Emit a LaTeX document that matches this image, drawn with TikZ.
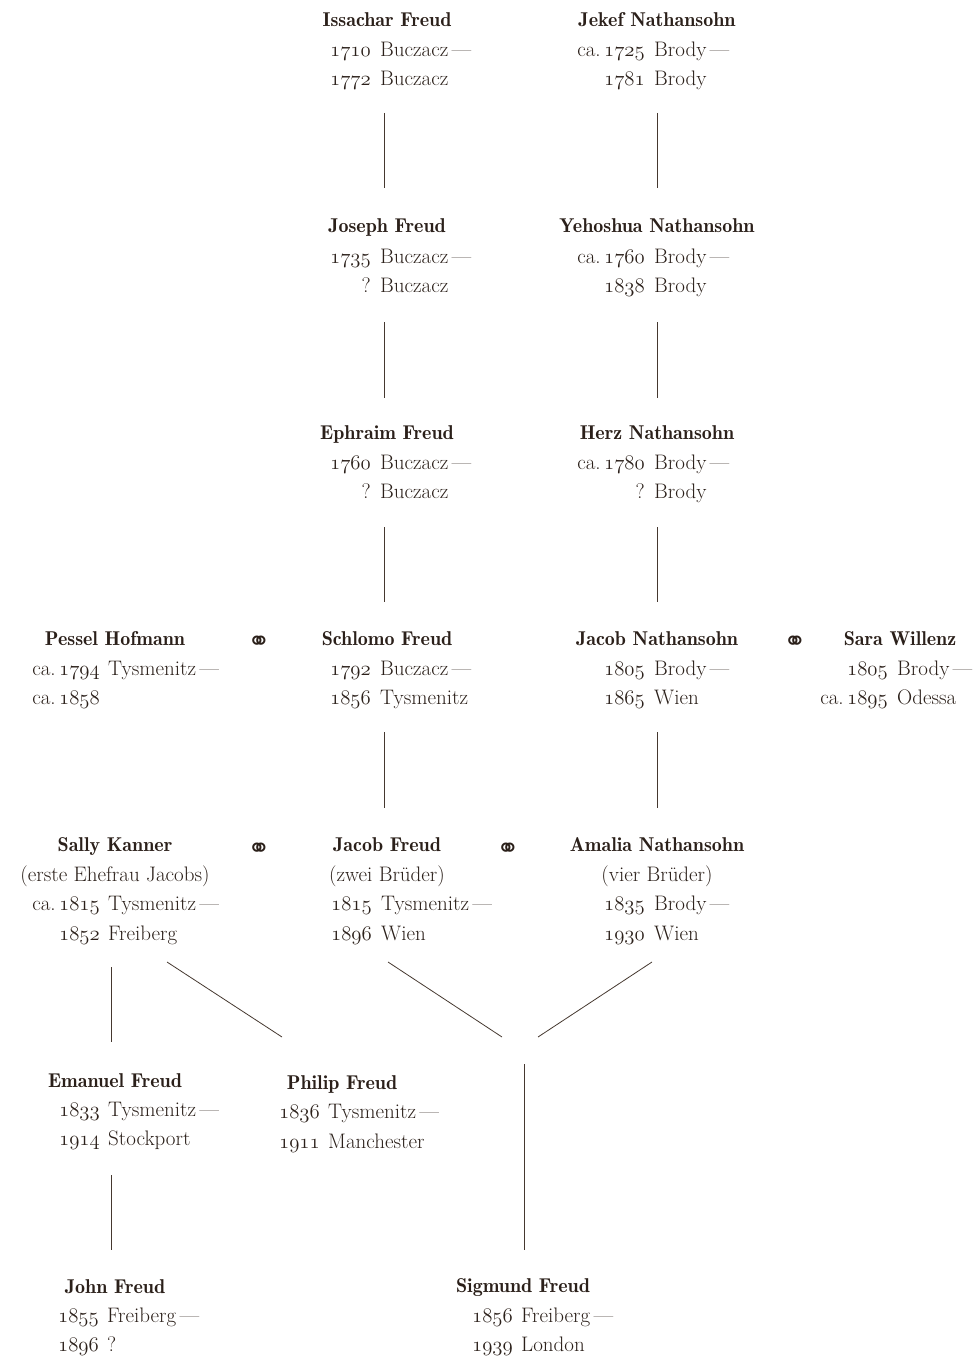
\documentclass[tikz,border=0pt]{standalone}
\usepackage{fontspec}
\newfontfamily\symfont{DejaVu Sans}
\definecolor{ink}{HTML}{2B201A}
\definecolor{rule}{HTML}{45382F}
\newcommand\on[1]{{\usefont{OML}{cmm}{m}{it}\fontsize{21}{24}\selectfont#1}}
\newcommand\ca{ca.\,}
\tikzset{
  nm/.style={anchor=base, inner sep=0pt, font=\fontsize{20}{24}\fontseries{b}\selectfont, text=ink},
  sub/.style={anchor=base, inner sep=0pt, font=\fontsize{21}{24}\selectfont, text=ink},
  yr/.style={anchor=base east, inner sep=0pt, font=\fontsize{21}{24}\selectfont, text=ink},
  pl/.style={anchor=base west, inner sep=0pt, font=\fontsize{21}{24}\selectfont, text=ink},
  mar/.style={inner sep=0pt, font=\symfont\fontsize{27}{30}\selectfont, text=ink},
  link/.style={draw=rule, line width=0.8pt}
}
\begin{document}
\begin{tikzpicture}[x=1pt,y=-1pt]
\useasboundingbox (0,0) rectangle (974,1356);
% Row 1
\node[nm] (issachar) at (387,27) {Issachar Freud};
\node[yr] (issachar-b) at (371,57) {\on{1710}};
\node[pl] (issachar-bp) at (380,57) {Buczacz\,—};
\node[yr] (issachar-d) at (371,86) {\on{1772}};
\node[pl] (issachar-dp) at (380,86) {Buczacz};
\node[nm] (jekef) at (657,27) {Jekef Nathansohn};
\node[yr] (jekef-b) at (645,57) {\ca\on{1725}};
\node[pl] (jekef-bp) at (654,57) {Brody\,—};
\node[yr] (jekef-d) at (645,86) {\on{1781}};
\node[pl] (jekef-dp) at (654,86) {Brody};
% Row 2
\node[nm] (joseph) at (387,233) {Joseph Freud};
\node[yr] (joseph-b) at (371,263) {\on{1735}};
\node[pl] (joseph-bp) at (380,263) {Buczacz\,—};
\node[yr] (joseph-d) at (371,292) {?};
\node[pl] (joseph-dp) at (380,292) {Buczacz};
\node[nm] (yehoshua) at (657,233) {Yehoshua Nathansohn};
\node[yr] (yehoshua-b) at (645,263) {\ca\on{1760}};
\node[pl] (yehoshua-bp) at (654,263) {Brody\,—};
\node[yr] (yehoshua-d) at (645,292) {\on{1838}};
\node[pl] (yehoshua-dp) at (654,292) {Brody};
% Row 3
\node[nm] (ephraim) at (387,439) {Ephraim Freud};
\node[yr] (ephraim-b) at (371,469) {\on{1760}};
\node[pl] (ephraim-bp) at (380,469) {Buczacz\,—};
\node[yr] (ephraim-d) at (371,498) {?};
\node[pl] (ephraim-dp) at (380,498) {Buczacz};
\node[nm] (herz) at (657,439) {Herz Nathansohn};
\node[yr] (herz-b) at (645,469) {\ca\on{1780}};
\node[pl] (herz-bp) at (654,469) {Brody\,—};
\node[yr] (herz-d) at (645,498) {?};
\node[pl] (herz-dp) at (654,498) {Brody};
% Row 4
\node[nm] (pessel) at (115,645) {Pessel Hofmann};
\node[yr] (pessel-b) at (100,675) {\ca\on{1794}};
\node[pl] (pessel-bp) at (108,675) {Tysmenitz\,—};
\node[yr] (pessel-d) at (100,704) {\ca\on{1858}};
\node[mar] (m1) at (259,643) {⚭};
\node[nm] (schlomo) at (387,645) {Schlomo Freud};
\node[yr] (schlomo-b) at (371,675) {\on{1792}};
\node[pl] (schlomo-bp) at (380,675) {Buczacz\,—};
\node[yr] (schlomo-d) at (371,704) {\on{1856}};
\node[pl] (schlomo-dp) at (380,704) {Tysmenitz};
\node[nm] (jacobn) at (657,645) {Jacob Nathansohn};
\node[yr] (jacobn-b) at (645,675) {\on{1805}};
\node[pl] (jacobn-bp) at (654,675) {Brody\,—};
\node[yr] (jacobn-d) at (645,704) {\on{1865}};
\node[pl] (jacobn-dp) at (654,704) {Wien};
\node[mar] (m2) at (795,643) {⚭};
\node[nm] (sara) at (900,645) {Sara Willenz};
\node[yr] (sara-b) at (888,675) {\on{1805}};
\node[pl] (sara-bp) at (897,675) {Brody\,—};
\node[yr] (sara-d) at (888,704) {\ca\on{1895}};
\node[pl] (sara-dp) at (897,704) {Odessa};
% Row 5
\node[nm] (sally) at (115,851) {Sally Kanner};
\node[sub] (sally-s) at (115,881) {(erste Ehefrau Jacobs)};
\node[yr] (sally-b) at (100,910) {\ca\on{1815}};
\node[pl] (sally-bp) at (108,910) {Tysmenitz\,—};
\node[yr] (sally-d) at (100,940) {\on{1852}};
\node[pl] (sally-dp) at (108,940) {Freiberg};
\node[mar] (m3) at (259,850) {⚭};
\node[nm] (jacobf) at (387,851) {Jacob Freud};
\node[sub] (jacobf-s) at (387,881) {(zwei Brüder)};
\node[yr] (jacobf-b) at (372,910) {\on{1815}};
\node[pl] (jacobf-bp) at (381,910) {Tysmenitz\,—};
\node[yr] (jacobf-d) at (372,940) {\on{1896}};
\node[pl] (jacobf-dp) at (381,940) {Wien};
\node[mar] (m4) at (508,850) {⚭};
\node[nm] (amalia) at (657,851) {Amalia Nathansohn};
\node[sub] (amalia-s) at (657,881) {(vier Brüder)};
\node[yr] (amalia-b) at (645,910) {\on{1835}};
\node[pl] (amalia-bp) at (654,910) {Brody\,—};
\node[yr] (amalia-d) at (645,940) {\on{1930}};
\node[pl] (amalia-dp) at (654,940) {Wien};
% Row 6
\node[nm] (emanuel) at (115,1087) {Emanuel Freud};
\node[yr] (emanuel-b) at (100,1116) {\on{1833}};
\node[pl] (emanuel-bp) at (108,1116) {Tysmenitz\,—};
\node[yr] (emanuel-d) at (100,1145) {\on{1914}};
\node[pl] (emanuel-dp) at (108,1145) {Stockport};
\node[nm] (philip) at (342,1089) {Philip Freud};
\node[yr] (philip-b) at (320,1118) {\on{1836}};
\node[pl] (philip-bp) at (328,1118) {Tysmenitz\,—};
\node[yr] (philip-d) at (320,1148) {\on{1911}};
\node[pl] (philip-dp) at (328,1148) {Manchester};
% Row 7
\node[nm] (john) at (115,1293) {John Freud};
\node[yr] (john-b) at (99,1322) {\on{1855}};
\node[pl] (john-bp) at (107,1322) {Freiberg\,—};
\node[yr] (john-d) at (99,1351) {\on{1896}};
\node[pl] (john-dp) at (107,1351) {?};
\node[nm] (sigmund) at (523,1292) {Sigmund Freud};
\node[yr] (sigmund-b) at (513,1322) {\on{1856}};
\node[pl] (sigmund-bp) at (521,1322) {Freiberg\,—};
\node[yr] (sigmund-d) at (513,1351) {\on{1939}};
\node[pl] (sigmund-dp) at (521,1351) {London};
% connector end points
\coordinate (c1a) at (384,113); \coordinate (c1b) at (384,188);
\coordinate (c2a) at (657,113); \coordinate (c2b) at (657,188);
\coordinate (c3a) at (384,322); \coordinate (c3b) at (384,398);
\coordinate (c4a) at (657,322); \coordinate (c4b) at (657,398);
\coordinate (c5a) at (384,527); \coordinate (c5b) at (384,602);
\coordinate (c6a) at (657,527); \coordinate (c6b) at (657,602);
\coordinate (c7a) at (384,732); \coordinate (c7b) at (384,808);
\coordinate (c8a) at (657,732); \coordinate (c8b) at (657,808);
\coordinate (c9a) at (111,967); \coordinate (c9b) at (111,1042);
\coordinate (c10a) at (167,962); \coordinate (c10b) at (282,1037);
\coordinate (c11a) at (388,962); \coordinate (c11b) at (502,1037);
\coordinate (c12a) at (652,962); \coordinate (c12b) at (538,1037);
\coordinate (c13a) at (524,1064); \coordinate (c13b) at (524,1250);
\coordinate (c14a) at (111,1175); \coordinate (c14b) at (111,1250);
\foreach \i in {1,...,14} {\draw[link] (c\i a) -- (c\i b);}
\end{tikzpicture}
\end{document}
